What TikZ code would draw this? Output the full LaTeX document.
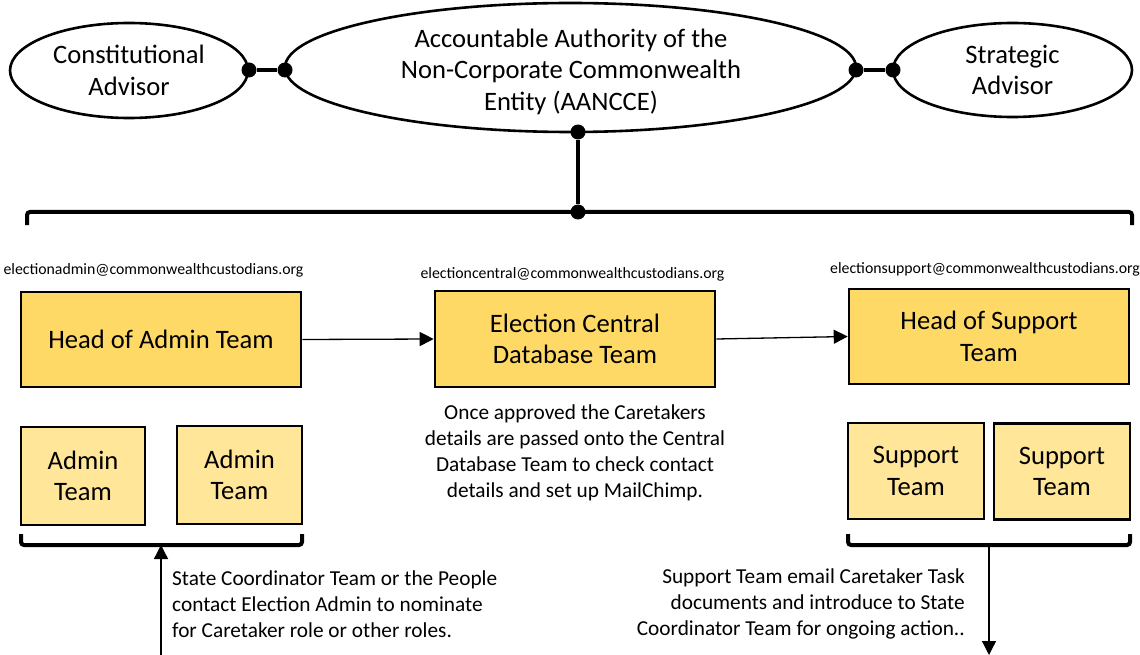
\documentclass[tikz,border=0pt]{standalone}
\usepackage{fontspec}
\setmainfont{Carlito}
\usetikzlibrary{arrows.meta,shapes.geometric}
\definecolor{headfill}{HTML}{FFD966}
\definecolor{subfill}{HTML}{FFE699}
\newcommand{\bigtxt}{\fontsize{26.6}{31.5}\selectfont}
\newcommand{\midtxt}{\fontsize{21.3}{26}\selectfont}
\newcommand{\smalltxt}{\fontsize{15.8}{19}\selectfont}
\tikzset{
  oval/.style={ellipse, draw, line width=2.6pt, inner sep=0pt, align=center, font=\bigtxt},
  headbox/.style={rectangle, draw, line width=2.6pt, fill=headfill, minimum width=280pt, inner sep=0pt, align=center, font=\bigtxt},
  subbox/.style={rectangle, draw, line width=2.6pt, fill=subfill, inner sep=0pt, align=center, font=\bigtxt},
  jdot/.style={circle, fill=black, minimum size=15pt, inner sep=0pt},
  heavy/.style={line width=4pt},
  bracketline/.style={line width=4pt, rounded corners=3pt},
  flow/.style={line width=1.3pt, -{Triangle[length=14pt,width=14pt]}},
  email/.style={font=\smalltxt, inner sep=0pt},
  note/.style={font=\midtxt, inner sep=0pt}
}
\begin{document}
\begin{tikzpicture}[x=1pt,y=-1pt]
\useasboundingbox (0,0) rectangle (1140,655);

% ellipses
\node[oval, minimum width=238pt, minimum height=95pt] (cons) at (129,70.5) {Constitutional\\Advisor};
\node[oval, minimum width=571pt, minimum height=129pt] (aa) at (570.5,67.5) {};
\node[font=\bigtxt, align=center, inner sep=0pt] (aatext) at (571,71.5) {Accountable Authority of the\\Non-Corporate Commonwealth\\Entity (AANCCE)};
\node[oval, minimum width=239pt, minimum height=94pt] (strat) at (1012.5,70) {Strategic\\Advisor};

% junction dots
\node[jdot] (d1) at (249,70) {};
\node[jdot] (d2) at (285,70) {};
\node[jdot] (d3) at (856,70) {};
\node[jdot] (d4) at (893,70) {};
\node[jdot] (d5) at (578,132) {};
\node[jdot] (d6) at (578,212) {};
\draw[heavy] (d1) -- (d2);
\draw[heavy] (d3) -- (d4);
\draw[heavy] (d5) -- (d6);

% top bracket
\draw[bracketline] (27,225) -- (27,212) -- (1132,212) -- (1132,225);

% emails
\node[email] (eadmin) at (153.5,270) {electionadmin@commonwealthcustodians.org};
\node[email] (ecentral) at (572.5,274) {electioncentral@commonwealthcustodians.org};
\node[email, anchor=west] (esupport) at (830,269) {electionsupport@commonwealthcustodians.org};

% head boxes
\node[headbox, minimum height=95pt] (hadmin) at (161,339.5) {Head of Admin Team};
\node[headbox, minimum height=96pt] (central) at (575,339) {Election Central\\Database Team};
\node[headbox, minimum height=95pt] (hsupport) at (989,336.5) {Head of Support\\Team};
\draw[flow] (hadmin.east) -- (central.west);
\draw[flow] (central.east) -- (hsupport.west);

% central note
\node[note, align=center] (cnote) at (575,452.5) {Once approved the Caretakers\\details are passed onto the Central\\Database Team to check contact\\details and set up MailChimp.};

% sub boxes
\node[subbox, minimum width=124pt, minimum height=98pt] (admin1) at (83,476) {Admin\\Team};
\node[subbox, minimum width=125pt, minimum height=98pt] (admin2) at (239.5,475) {Admin\\Team};
\node[subbox, minimum width=136pt, minimum height=96pt] (sup1) at (916,471) {Support\\Team};
\node[subbox, minimum width=136pt, minimum height=96pt] (sup2) at (1062,471.5) {Support\\Team};

% lower brackets
\draw[bracketline] (21,534) -- (21,545) -- (302,545) -- (302,534);
\draw[bracketline] (848,534) -- (848,545) -- (1130,545) -- (1130,534);
\coordinate (abr) at (161,545);
\coordinate (sbr) at (989,545);
\coordinate (ain) at (161,656);
\coordinate (sout) at (989,655);
\draw[flow] (ain) -- (abr);
\draw[flow] (sbr) -- (sout);

% bottom notes
\node[note, align=left, anchor=west] (anote) at (172,604) {State Coordinator Team or the People\\contact Election Admin to nominate\\for Caretaker role or other roles.};
\node[note, align=right, anchor=east] (snote) at (965,604) {Support Team email Caretaker Task\\documents and introduce to State\\Coordinator Team for ongoing action..};
\end{tikzpicture}
\end{document}
